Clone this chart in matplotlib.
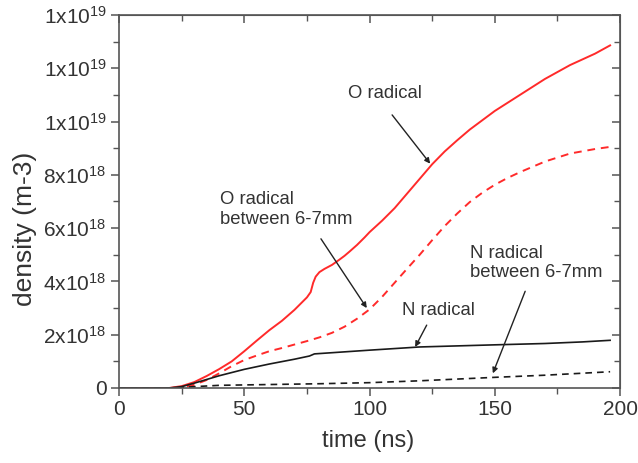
import numpy as np
import matplotlib
matplotlib.use("Agg")
import matplotlib.pyplot as plt
from matplotlib.ticker import FuncFormatter, MultipleLocator

plt.rcParams['font.family'] = ['Liberation Sans', 'DejaVu Sans']
plt.rcParams['mathtext.default'] = 'regular'

# time axis (ns) and densities (units of 1e18 m^-3)
t_o = [0, 20, 25, 30, 35, 40, 45, 50, 55, 60, 65, 70, 75, 76.5, 77.5, 78.5, 80, 82, 85,
       88, 90, 92, 95, 98, 100, 105, 110, 115, 120, 125, 130, 135, 140, 145, 150, 160,
       170, 180, 190, 196]
o_radical = [0, 0, 0.07, 0.22, 0.45, 0.71, 1.0, 1.38, 1.78, 2.17, 2.52, 2.93, 3.4, 3.6,
             3.95, 4.18, 4.35, 4.47, 4.62, 4.82, 4.96, 5.12, 5.37, 5.65, 5.85, 6.28,
             6.75, 7.3, 7.85, 8.4, 8.88, 9.3, 9.7, 10.05, 10.4, 11.0, 11.6, 12.12,
             12.55, 12.86]

t_o67 = [0, 20, 25, 30, 35, 40, 45, 50, 55, 60, 65, 70, 75, 80, 85, 90, 95, 100, 105,
         110, 115, 120, 125, 130, 135, 140, 145, 150, 155, 160, 170, 180, 190, 196]
o_radical_67 = [0, 0, 0.02, 0.12, 0.3, 0.55, 0.82, 1.05, 1.22, 1.38, 1.5, 1.63, 1.76,
                1.9, 2.07, 2.3, 2.6, 2.95, 3.42, 3.95, 4.48, 5.0, 5.55, 6.08, 6.55,
                6.98, 7.33, 7.63, 7.88, 8.1, 8.5, 8.8, 8.97, 9.05]

t_n = [0, 20, 25, 30, 40, 50, 60, 70, 76, 78, 100, 120, 150, 170, 185, 196]
n_radical = [0, 0, 0.05, 0.18, 0.46, 0.7, 0.9, 1.08, 1.2, 1.28, 1.42, 1.54, 1.62,
             1.67, 1.73, 1.79]

t_n67 = [0, 20, 25, 30, 40, 60, 80, 100, 120, 150, 170, 196]
n_radical_67 = [0, 0, 0.02, 0.05, 0.1, 0.13, 0.16, 0.2, 0.27, 0.4, 0.48, 0.61]

scale = 1e18
red = '#ff2a2a'
dark = '#1a1a1a'
txt = '#333333'

fig = plt.figure(figsize=(6.38, 4.63), dpi=100)
ax = fig.add_axes([0.1865, 0.162, 0.7855, 0.8056])

ax.plot(t_o, np.array(o_radical) * scale, color=red, lw=1.4)
ax.plot(t_o67, np.array(o_radical_67) * scale, color=red, lw=1.4, ls=(0, (4, 3)))
ax.plot(t_n, np.array(n_radical) * scale, color=dark, lw=1.2)
ax.plot(t_n67, np.array(n_radical_67) * scale, color=dark, lw=1.2, ls=(0, (4, 3)))

ax.set_xlim(0, 200)
ax.set_ylim(0, 1.4e19)


def sci(v, pos):
    if abs(v) < 1:
        return '0'
    exp = int(np.floor(np.log10(abs(v)) + 1e-9))
    mant = v / 10 ** exp
    return f'{mant:.0f}x10$^{{{exp}}}$'


ax.yaxis.set_major_locator(MultipleLocator(2e18))
ax.yaxis.set_minor_locator(MultipleLocator(1e18))
ax.yaxis.set_major_formatter(FuncFormatter(sci))
ax.xaxis.set_major_locator(MultipleLocator(50))
ax.xaxis.set_minor_locator(MultipleLocator(25))

spine_c = '#555555'
for s in ax.spines.values():
    s.set_color(spine_c)
    s.set_linewidth(1.2)
ax.tick_params(which='major', direction='out', length=6, width=1.1, color=spine_c,
               labelsize=15, labelcolor=txt, pad=3)
ax.tick_params(which='minor', direction='out', length=4, width=1.0, color=spine_c)

# mirrored ticks on top and right, pointing into the frame
top = ax.secondary_xaxis('top')
top.xaxis.set_major_locator(MultipleLocator(50))
top.xaxis.set_minor_locator(MultipleLocator(25))
top.tick_params(which='major', direction='in', length=6, width=1.1, color=spine_c, labeltop=False)
top.tick_params(which='minor', direction='in', length=4, width=1.0, color=spine_c)
top.spines['top'].set_color(spine_c)
right = ax.secondary_yaxis('right')
right.yaxis.set_major_locator(MultipleLocator(2e18))
right.yaxis.set_minor_locator(MultipleLocator(1e18))
right.tick_params(which='major', direction='in', length=6, width=1.1, color=spine_c, labelright=False)
right.tick_params(which='minor', direction='in', length=4, width=1.0, color=spine_c)
right.spines['right'].set_color(spine_c)

ax.set_xlabel('time (ns)', fontsize=17, color=txt)
ax.set_ylabel('density (m-3)', fontsize=19, color=txt)
ax.xaxis.set_label_coords(0.497, -0.113)
ax.yaxis.set_label_coords(-0.164, 0.426)

arrow = dict(arrowstyle='-|>', lw=1.0, color='#222222', mutation_scale=8,
             shrinkA=0, shrinkB=0)
fs = 13.3
ax.text(106.2, 11.05e18, 'O radical', fontsize=fs, color=txt, ha='center', va='center')
ax.annotate('', xy=(124.2, 8.42e18), xytext=(109.0, 10.25e18), arrowprops=arrow)

ax.text(40.3, 6.69e18, 'O radical\nbetween 6-7mm', fontsize=fs, color=txt,
        ha='left', va='center', linespacing=1.2)
ax.annotate('', xy=(98.9, 3.0e18), xytext=(80.6, 5.6e18), arrowprops=arrow)

ax.text(127.3, 2.9e18, 'N radical', fontsize=fs, color=txt, ha='center', va='center')
ax.annotate('', xy=(118.2, 1.54e18), xytext=(122.8, 2.36e18), arrowprops=arrow)

ax.text(140.1, 4.69e18, 'N radical\nbetween 6-7mm', fontsize=fs, color=txt,
        ha='left', va='center', linespacing=1.2)
ax.annotate('', xy=(149.2, 0.55e18), xytext=(162.1, 3.63e18), arrowprops=arrow)

fig.savefig('out.png', dpi=100)
